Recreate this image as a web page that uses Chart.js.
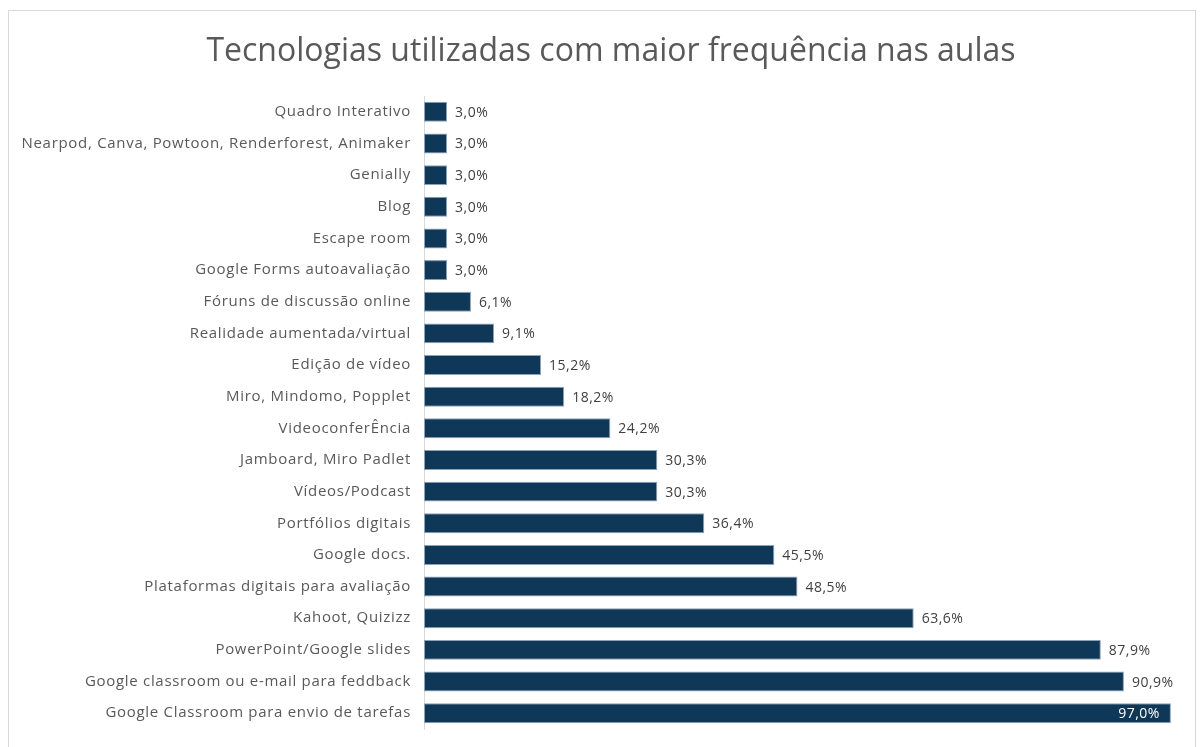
<!DOCTYPE html>
<html>
<head>
<meta charset="utf-8">
<script src="https://cdn.jsdelivr.net/npm/chart.js@4"></script>
<style>
  html, body { margin: 0; padding: 0; background: #fff; overflow: hidden; }
  #frame { position: absolute; left: 8px; top: 10px; width: 1186px; height: 750px; border: 1px solid #d9d9d9; }
  canvas { display: block; }
</style>
</head>
<body>
<div id="frame"><canvas id="chart" width="1186" height="740"></canvas></div>
<script>
const categories = [
  "Quadro Interativo",
  "Nearpod, Canva, Powtoon, Renderforest, Animaker",
  "Genially",
  "Blog",
  "Escape room",
  "Google Forms autoavaliação",
  "Fóruns de discussão online",
  "Realidade aumentada/virtual",
  "Edição de vídeo",
  "Miro, Mindomo, Popplet",
  "VideoconferÊncia",
  "Jamboard, Miro Padlet",
  "Vídeos/Podcast",
  "Portfólios digitais",
  "Google docs.",
  "Plataformas digitais para avaliação",
  "Kahoot, Quizizz",
  "PowerPoint/Google slides",
  "Google classroom ou e-mail para feddback",
  "Google Classroom para envio de tarefas"
];
const percentages = [3.0, 3.0, 3.0, 3.0, 3.0, 3.0, 6.1, 9.1, 15.2, 18.2, 24.2, 30.3, 30.3, 36.4, 45.5, 48.5, 63.6, 87.9, 90.9, 97.0];

const fontFamily = "'Open Sans', 'Noto Sans', sans-serif";

function fmt(v) {
  return v.toFixed(1).replace(".", ",") + "%";
}

// the original labels are a bit spaced out; title is drawn before this kicks in
const spacing = {
  id: "spacing",
  afterLayout(chart) { chart.scales.y.left = 0; }, // don't clip the long label
  beforeDatasetsDraw(chart) { chart.ctx.letterSpacing = "0.7px"; },
  afterDraw(chart) { chart.ctx.letterSpacing = "0px"; }
};

// value next to each bar (inside the bar when it doesn't fit)
const valueLabels = {
  id: "valueLabels",
  afterDatasetsDraw(chart) {
    const ctx = chart.ctx;
    const meta = chart.getDatasetMeta(0);
    const right = chart.chartArea.right;
    ctx.save();
    ctx.letterSpacing = "0.5px";
    ctx.font = "14px " + fontFamily;
    ctx.textBaseline = "middle";
    meta.data.forEach((bar, i) => {
      const text = fmt(percentages[i]);
      const w = ctx.measureText(text).width;
      if (bar.x + 8 + w > right) {
        ctx.fillStyle = "#ffffff";
        ctx.textAlign = "right";
        ctx.fillText(text, bar.x - 11, bar.y + 1);
      } else {
        ctx.fillStyle = "#404040";
        ctx.textAlign = "left";
        ctx.fillText(text, bar.x + 8, bar.y + 1);
      }
    });
    ctx.restore();
  }
};

new Chart(document.getElementById("chart"), {
  type: "bar",
  data: {
    labels: categories,
    datasets: [{
      data: percentages,
      backgroundColor: "#0f3757",
      borderColor: "#8ea2b6",
      borderWidth: 1,
      borderSkipped: false,
      barPercentage: 0.9,
      categoryPercentage: 0.7
    }]
  },
  options: {
    indexAxis: "y",
    responsive: false,
    animation: false,
    layout: { padding: { left: 19, right: 1, top: 0, bottom: 8 } },
    plugins: {
      legend: { display: false },
      tooltip: { enabled: false },
      title: {
        display: true,
        text: "Tecnologias utilizadas com maior frequência nas aulas",
        color: "#595959",
        font: { family: fontFamily, size: 32, weight: "normal", lineHeight: 1.2 },
        padding: { top: 22, bottom: 24.6 }
      }
    },
    scales: {
      x: {
        display: false,
        min: 0,
        max: 100
      },
      y: {
        afterFit(scale) { scale.width = 396; },
        grid: { display: false, drawTicks: false },
        border: { display: true, color: "#d9d9d9", width: 1 },
        ticks: {
          z: 1,
          color: "#595959",
          padding: 13,
          font: { family: fontFamily, size: 15 }
        }
      }
    }
  },
  plugins: [spacing, valueLabels]
});
</script>
</body>
</html>
